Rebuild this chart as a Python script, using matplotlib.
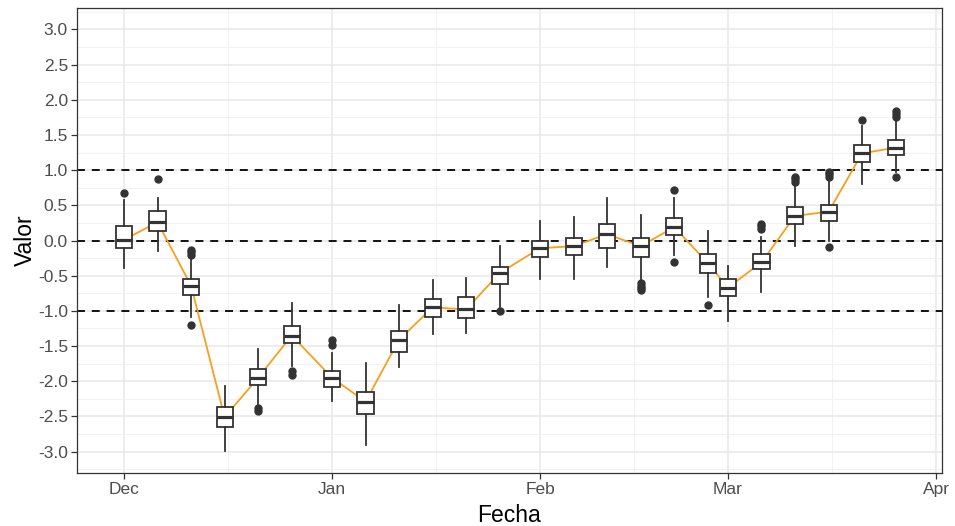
import matplotlib.pyplot as plt
import matplotlib.dates as mdates
import numpy as np
import pandas as pd

fechas = ['2018-12-01', '2018-12-06', '2018-12-11', '2018-12-16', '2018-12-21', '2018-12-26',
          '2019-01-01', '2019-01-06', '2019-01-11', '2019-01-16', '2019-01-21', '2019-01-26',
          '2019-02-01', '2019-02-06', '2019-02-11', '2019-02-16', '2019-02-21', '2019-02-26',
          '2019-03-01', '2019-03-06', '2019-03-11', '2019-03-16', '2019-03-21', '2019-03-26']
bigote_inf = [-0.39, -0.15, -1.08, -2.99, -2.34, -1.79, -2.28, -2.91, -1.80, -1.33, -1.31, -0.94,
              -0.55, -0.55, -0.38, -0.56, -0.21, -0.80, -1.14, -0.73, -0.08, 0.00, 0.80, 0.98]
q1 = [-0.11, 0.13, -0.77, -2.65, -2.05, -1.46, -2.08, -2.47, -1.58, -1.09, -1.10, -0.62,
      -0.24, -0.21, -0.10, -0.23, 0.08, -0.46, -0.79, -0.41, 0.23, 0.28, 1.11, 1.21]
mediana = [0.01, 0.26, -0.64, -2.51, -1.95, -1.35, -1.95, -2.29, -1.41, -0.95, -0.98, -0.46,
           -0.11, -0.08, 0.09, -0.08, 0.19, -0.32, -0.67, -0.31, 0.35, 0.41, 1.24, 1.32]
q3 = [0.20, 0.42, -0.54, -2.37, -1.82, -1.22, -1.85, -2.15, -1.29, -0.83, -0.80, -0.37,
      -0.01, 0.04, 0.24, 0.03, 0.32, -0.19, -0.54, -0.19, 0.48, 0.51, 1.36, 1.43]
bigote_sup = [0.58, 0.60, -0.23, -2.07, -1.54, -0.89, -1.60, -1.74, -0.91, -0.56, -0.53, -0.08,
              0.28, 0.34, 0.60, 0.36, 0.60, 0.13, -0.36, 0.05, 0.79, 0.86, 1.63, 1.73]
atipicos = [[0.68], [0.88], [-0.14, -0.17, -0.20, -1.20], [], [-2.38, -2.42], [-1.85, -1.91],
            [-1.42, -1.49], [], [], [], [], [-1.00],
            [], [], [], [-0.60, -0.64, -0.68, -0.71], [0.72, -0.31], [-0.91],
            [], [0.17, 0.20, 0.24], [0.83, 0.87, 0.90], [0.90, 0.94, 0.98, -0.09], [1.71],
            [1.76, 1.80, 1.84, 0.90]]
umbrales = [-1.0, 0.0, 1.0]
yticks = np.arange(-3.0, 3.01, 0.5)

plt.rcParams['font.family'] = ['Liberation Sans', 'DejaVu Sans']

x = mdates.date2num(pd.to_datetime(fechas))
stats = [dict(whislo=a, q1=b, med=c, q3=d, whishi=e, fliers=f)
         for a, b, c, d, e, f in zip(bigote_inf, q1, mediana, q3, bigote_sup, atipicos)]

fig = plt.figure(figsize=(9.55, 5.26), dpi=100)
ax = fig.add_axes([0.0806, 0.1013, 0.9058, 0.8829])

for u in umbrales:
    ax.axhline(u, color='black', lw=1.3, ls=(0, (4.4, 3.8)), zorder=2)

ax.plot(x, mediana, color='#F5A01E', lw=1.3, zorder=3)

edge = '#333333'
ax.bxp(stats, positions=x, widths=2.4, patch_artist=True, showcaps=False, manage_ticks=False,
       boxprops=dict(facecolor='white', edgecolor=edge, lw=1.3),
       whiskerprops=dict(color=edge, lw=1.3),
       medianprops=dict(color=edge, lw=2.3),
       flierprops=dict(marker='o', markerfacecolor=edge, markeredgecolor=edge, markersize=5),
       zorder=4)

meses = mdates.date2num(pd.to_datetime(['2018-12-01', '2019-01-01', '2019-02-01',
                                        '2019-03-01', '2019-04-01']))
ax.set_xticks(meses)
ax.set_xticks((meses[:-1] + meses[1:]) / 2, minor=True)
ax.xaxis.set_major_formatter(mdates.DateFormatter('%b'))
ax.set_yticks(yticks)
ax.set_yticks(np.arange(-3.25, 3.3, 0.5), minor=True)
ax.set_yticklabels([f'{v:.1f}' for v in yticks])

ax.set_xlim(mdates.date2num(pd.Timestamp('2018-11-24')), mdates.date2num(pd.Timestamp('2019-04-01')) + 0.9)
ax.set_ylim(-3.3, 3.3)

ax.grid(which='major', color='#E8E8E8', lw=1.1)
ax.grid(which='minor', color='#F2F2F2', lw=0.7)
ax.set_axisbelow(True)
ax.tick_params(which='major', length=4, width=0.9, color=edge, labelcolor='#4D4D4D',
               labelsize=12.5, pad=2.5)
ax.tick_params(which='minor', length=0)
for s in ax.spines.values():
    s.set_color(edge)
    s.set_linewidth(0.9)

ax.set_xlabel('Fecha', fontsize=16.5, labelpad=5)
ax.set_ylabel('Valor', fontsize=16.5, labelpad=1)

plt.savefig('out.png', dpi=100)
